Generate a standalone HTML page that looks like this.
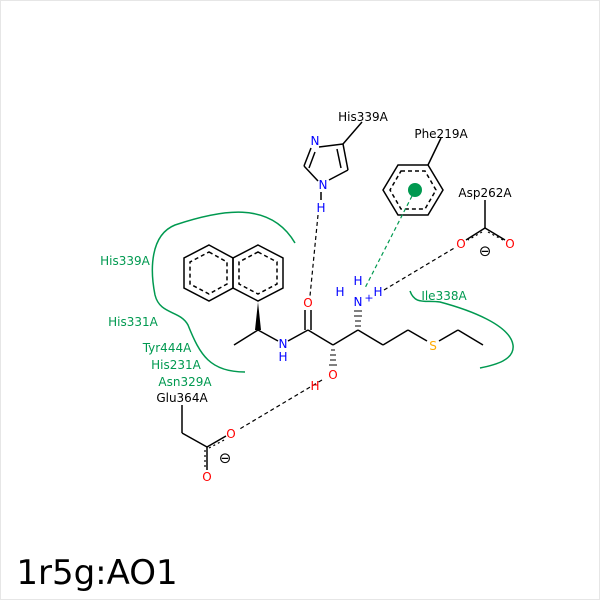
<!DOCTYPE html>
<html><head><style>
body{margin:0;background:#fff}
svg{display:block}
text{font-family:"DejaVu Sans","Liberation Sans",sans-serif;font-size:12px;text-anchor:middle;dominant-baseline:central}
.g{fill:#009950}
.k{fill:#000}
.b{fill:#0000ff}
.r{fill:#ff0000}
</style></head><body>
<svg width="600" height="600" viewBox="0 0 600 600">
<rect x="0.5" y="0.5" width="599" height="599" fill="#fff" stroke="#e6e6e6"/>
<g stroke="#000" stroke-width="1.5" fill="none">
<polygon points="209,245 233,258 233,288 209,301 184,288 184,258"/>
<polygon points="258,245 283,258 283,288 258,301 233,288 233,258"/>
<g stroke-dasharray="4,3">
<polygon points="209,252 227,262 227,284 209,294 190,284 190,262"/>
<polygon points="258,252 277,262 277,284 258,294 239,284 239,262"/>
</g>
<line x1="258" y1="330" x2="234" y2="345"/>
<line x1="258" y1="330" x2="278" y2="341"/>
<line x1="288" y1="341" x2="308" y2="330"/>
<line x1="305" y1="330" x2="305" y2="310"/>
<line x1="311" y1="330" x2="311" y2="310"/>
<line x1="308" y1="330" x2="333" y2="345"/>
<line x1="333" y1="345" x2="358" y2="330"/>
<line x1="358" y1="330" x2="383" y2="345"/>
<line x1="383" y1="345" x2="408" y2="330"/>
<line x1="408" y1="330" x2="427" y2="341"/>
<line x1="439" y1="341" x2="458" y2="330"/>
<line x1="458" y1="330" x2="483" y2="345"/>
<line x1="182" y1="405" x2="182" y2="433"/>
<line x1="182" y1="433" x2="207" y2="447"/>
<line x1="207" y1="447" x2="226" y2="436"/>
<line x1="207" y1="447" x2="207" y2="470"/>
<line x1="485" y1="200" x2="485" y2="228"/>
<line x1="485" y1="228" x2="466" y2="240"/>
<line x1="485" y1="228" x2="505" y2="240"/>
<polygon points="398,165 428,165 443,190 428,215 398,215 383,190"/>
<polygon points="401,171 425,171 436,190 425,209 401,209 390,190" stroke-dasharray="4,3"/>
<line x1="428" y1="165" x2="441" y2="138"/>
<line x1="319" y1="147" x2="343" y2="144"/>
<line x1="343" y1="144" x2="348" y2="170"/>
<line x1="337" y1="149" x2="341" y2="168"/>
<line x1="348" y1="170" x2="329" y2="180"/>
<line x1="318" y1="181" x2="304" y2="166"/>
<line x1="304" y1="166" x2="311" y2="148"/>
<line x1="309" y1="168" x2="315" y2="152"/>
<line x1="343" y1="144" x2="362" y2="122"/>
<line x1="321" y1="192" x2="321" y2="200"/>
</g>
<g stroke="#000" stroke-width="1.2" stroke-dasharray="2,3" fill="none">
<line x1="205" y1="450" x2="205" y2="468"/>
<line x1="209" y1="448" x2="226" y2="439"/>
<line x1="482" y1="232" x2="468" y2="240"/>
<line x1="488" y1="232" x2="503" y2="240"/>
</g>
<polygon points="258,302 255,330 261,330" fill="#000"/>
<g stroke="#000" stroke-width="1">
<line x1="331" y1="350" x2="335" y2="350"/><line x1="330" y1="355" x2="336" y2="355"/><line x1="330" y1="360" x2="336" y2="360"/><line x1="329" y1="365" x2="337" y2="365"/>
<line x1="355" y1="326" x2="361" y2="326"/><line x1="355" y1="321" x2="361" y2="321"/><line x1="354" y1="316" x2="362" y2="316"/><line x1="354" y1="311" x2="362" y2="311"/>
</g>
<g stroke="#000" stroke-width="1.2" stroke-dasharray="4,3" fill="none">
<line x1="318" y1="215" x2="310" y2="296"/>
<line x1="384" y1="290" x2="456" y2="247"/>
<line x1="322" y1="380" x2="238" y2="430"/>
</g>
<line x1="412" y1="196" x2="365" y2="288" stroke="#009950" stroke-width="1.2" stroke-dasharray="4,3"/>
<circle cx="415" cy="190" r="7" fill="#009950"/>
<g stroke="#009950" stroke-width="1.5" fill="none">
<path d="M295,243 C270,200 220,210 175,225 C150,235 150,270 155,295 C160,315 180,310 188,325 C200,355 210,372 245,372"/>
<path d="M410,291 C415,305 425,300 440,302 C470,310 510,325 513,345 C515,360 495,365 480,368"/>
</g>
<text x="363" y="117" class="k">His339A</text>
<text x="441" y="134" class="k">Phe219A</text>
<text x="485" y="193" class="k">Asp262A</text>
<text x="182" y="398" class="k">Glu364A</text>
<text x="125" y="261" class="g">His339A</text>
<text x="133" y="322" class="g">His331A</text>
<text x="167" y="348" class="g">Tyr444A</text>
<text x="176" y="365" class="g">His231A</text>
<text x="185" y="382" class="g">Asn329A</text>
<text x="444" y="296" class="g">Ile338A</text>
<text x="315" y="141" class="b">N</text>
<text x="323" y="185" class="b">N</text>
<text x="321" y="208" class="b">H</text>
<text x="283" y="344" class="b">N</text>
<text x="283" y="357" class="b">H</text>
<text x="358" y="302" class="b">N</text>
<text x="358" y="281" class="b">H</text>
<text x="340" y="292" class="b">H</text>
<text x="378" y="292" class="b">H</text>
<text x="369" y="298" class="b" style="font-size:11px">+</text>
<text x="308" y="303" class="r">O</text>
<text x="333" y="375" class="r">O</text>
<text x="315" y="386" class="r">H</text>
<text x="231" y="434" class="r">O</text>
<text x="207" y="477" class="r">O</text>
<text x="461" y="244" class="r">O</text>
<text x="510" y="244" class="r">O</text>
<text x="433" y="346" style="fill:#ffaa00">S</text>
<text x="485" y="251" class="k" style="font-size:15px">⊖</text>
<text x="225" y="458" class="k" style="font-size:15px">⊖</text>
<text x="97" y="573" class="k" style="font-size:34px">1r5g:AO1</text>
</svg>
</body></html>
